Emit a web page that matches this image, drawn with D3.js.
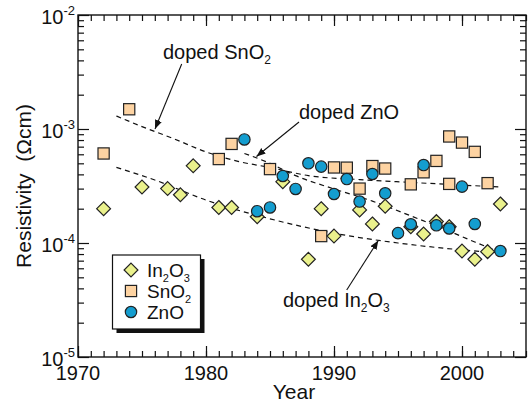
<!DOCTYPE html>
<html>
<head>
<meta charset="utf-8">
<script src="https://cdn.jsdelivr.net/npm/d3@7"></script>
<style>
  html, body { margin: 0; padding: 0; background: #fff; }
  svg text { font-family: "Liberation Sans", Arial, sans-serif; fill: #111; }
</style>
</head>
<body>
<div id="chart"></div>
<script>
// ---- data ----
const in2o3Years = [1972, 1975, 1977, 1978, 1979, 1981, 1982, 1984, 1986, 1988, 1989, 1990, 1992, 1993, 1994, 1996, 1997, 1998, 1999, 2000, 2001, 2002, 2003];
const in2o3Rho = [2.0e-4, 3.1e-4, 3.0e-4, 2.65e-4, 4.75e-4, 2.05e-4, 2.05e-4, 1.7e-4, 3.45e-4, 7.2e-5, 2.0e-4, 1.15e-4, 1.95e-4, 1.47e-4, 2.1e-4, 1.39e-4, 1.2e-4, 1.54e-4, 1.39e-4, 8.5e-5, 7.2e-5, 8.4e-5, 2.2e-4];

const sno2Years = [1972, 1974, 1981, 1982, 1985, 1989, 1990, 1991, 1992, 1993, 1994, 1996, 1997, 1998, 1999, 1999, 2000, 2001, 2002];
const sno2Rho = [6.1e-4, 1.49e-3, 5.45e-4, 7.4e-4, 4.45e-4, 1.15e-4, 4.6e-4, 4.58e-4, 3.0e-4, 4.73e-4, 4.5e-4, 3.27e-4, 4.17e-4, 5.25e-4, 8.6e-4, 3.3e-4, 7.6e-4, 6.3e-4, 3.35e-4];

const znoYears = [1983, 1984, 1985, 1986, 1987, 1988, 1989, 1990, 1991, 1992, 1993, 1994, 1995, 1996, 1997, 1998, 1999, 2000, 2001, 2003];
const znoRho = [8.1e-4, 1.9e-4, 2.05e-4, 3.87e-4, 2.98e-4, 5.0e-4, 4.68e-4, 2.69e-4, 3.64e-4, 2.31e-4, 4.03e-4, 2.73e-4, 1.22e-4, 1.46e-4, 4.83e-4, 1.43e-4, 1.34e-4, 3.12e-4, 1.47e-4, 8.5e-5];

// dashed trend curves
const sno2TrendYears = [1973, 1975, 1977.5, 1980, 1982.5, 1985, 1988, 1992, 1996, 2003];
const sno2TrendRho = [1.3e-3, 1.05e-3, 8.2e-4, 6.3e-4, 5.2e-4, 4.6e-4, 3.9e-4, 3.6e-4, 3.4e-4, 3.1e-4];
const znoTrendYears = [1983, 1985, 1987, 1990, 1993, 1996, 1999, 2001, 2003];
const znoTrendRho = [6.1e-4, 5.0e-4, 3.9e-4, 2.98e-4, 2.33e-4, 1.73e-4, 1.27e-4, 1.02e-4, 8.3e-5];
const in2o3TrendYears = [1973, 1976, 1980, 1985, 1990, 1995, 2000, 2003];
const in2o3TrendRho = [4.6e-4, 3.57e-4, 2.38e-4, 1.63e-4, 1.22e-4, 1.0e-4, 8.7e-5, 8.2e-5];

const xMajorTicks = [1970, 1980, 1990, 2000];
const yMajorExps = [-5, -4, -3, -2];

// ---- layout ----
const W = 529, H = 406;
const margin = { top: 15, right: 3, bottom: 49, left: 78 };
const width = W - margin.left - margin.right;
const height = H - margin.top - margin.bottom;

const svg = d3.select('#chart').append('svg')
  .attr('width', W).attr('height', H);
const g = svg.append('g')
  .attr('transform', `translate(${margin.left},${margin.top})`);

const x = d3.scaleLinear().domain([1970, 2005]).range([0, width]);
const y = d3.scaleLog().domain([1e-5, 1e-2]).range([height, 0]);

// ---- axes: ticks pointing inward on all four sides ----
const minorYears = d3.range(1970, 2006);
const minorY = [];
yMajorExps.slice(0, 3).forEach(e => {
  for (let k = 2; k <= 9; k++) minorY.push(k * Math.pow(10, e));
});
const majorY = yMajorExps.map(e => Math.pow(10, e));

function styleAxis(sel) {
  sel.select('.domain').remove();
  sel.selectAll('line').attr('stroke', '#111').attr('stroke-width', 1.2);
}

g.append('g').attr('transform', `translate(0,${height})`)
  .call(d3.axisBottom(x).tickValues(minorYears).tickSize(-6).tickFormat(''))
  .call(styleAxis);
g.append('g').attr('transform', `translate(0,${height})`)
  .call(d3.axisBottom(x).tickValues(xMajorTicks).tickSize(-11).tickFormat(''))
  .call(styleAxis);
g.append('g')
  .call(d3.axisTop(x).tickValues(minorYears).tickSize(-6).tickFormat(''))
  .call(styleAxis);
g.append('g')
  .call(d3.axisTop(x).tickValues(xMajorTicks).tickSize(-11).tickFormat(''))
  .call(styleAxis);

g.append('g')
  .call(d3.axisLeft(y).tickValues(minorY).tickSize(-6).tickFormat(''))
  .call(styleAxis);
g.append('g')
  .call(d3.axisLeft(y).tickValues(majorY).tickSize(-11).tickFormat(''))
  .call(styleAxis);
g.append('g').attr('transform', `translate(${width},0)`)
  .call(d3.axisRight(y).tickValues(minorY).tickSize(-6).tickFormat(''))
  .call(styleAxis);
g.append('g').attr('transform', `translate(${width},0)`)
  .call(d3.axisRight(y).tickValues(majorY).tickSize(-11).tickFormat(''))
  .call(styleAxis);

g.append('rect')
  .attr('width', width).attr('height', height)
  .attr('fill', 'none').attr('stroke', '#111').attr('stroke-width', 1.4);

// tick labels
g.selectAll('.xlab').data(xMajorTicks).enter().append('text')
  .attr('x', d => x(d)).attr('y', height + 23)
  .attr('text-anchor', 'middle').style('font-size', '20px')
  .text(d => d);

const ylab = g.selectAll('.ylab').data(yMajorExps).enter().append('text')
  .attr('x', -3).attr('y', d => y(Math.pow(10, d)) + 9)
  .attr('text-anchor', 'end').style('font-size', '20px');
ylab.append('tspan').text('10');
ylab.append('tspan').attr('dy', -9).style('font-size', '13px').text(d => d);

// axis titles
svg.append('text')
  .attr('x', margin.left + width / 2 - 8).attr('y', H - 7)
  .attr('text-anchor', 'middle').style('font-size', '21px')
  .text('Year');
svg.append('text')
  .attr('transform', `translate(31,${margin.top + height / 2}) rotate(-90)`)
  .attr('text-anchor', 'middle').style('font-size', '21px')
  .style('white-space', 'pre')
  .text('Resistivity  (\u03A9cm)');

// ---- trend curves ----
const line = d3.line().x(d => x(d[0])).y(d => y(d[1])).curve(d3.curveMonotoneX);
[[sno2TrendYears, sno2TrendRho], [znoTrendYears, znoTrendRho], [in2o3TrendYears, in2o3TrendRho]]
  .forEach(([ys, vs]) => {
    g.append('path')
      .datum(ys.map((yr, i) => [yr, vs[i]]))
      .attr('d', line)
      .attr('fill', 'none').attr('stroke', '#111')
      .attr('stroke-width', 1.2).attr('stroke-dasharray', '5,4');
  });

// ---- markers ----
const diamondFill = '#eaf18c', squareFill = '#fdd3a2', circleFill = '#149dcf';
const zip = (a, b) => a.map((v, i) => [v, b[i]]);

g.selectAll('.sq').data(zip(sno2Years, sno2Rho)).enter().append('rect')
  .attr('x', d => x(d[0]) - 5.6).attr('y', d => y(d[1]) - 5.6)
  .attr('width', 11.2).attr('height', 11.2)
  .attr('fill', squareFill).attr('stroke', '#222').attr('stroke-width', 1.2);

const diamond = d3.symbol().type(d3.symbolDiamond2).size(122);
g.selectAll('.dm').data(zip(in2o3Years, in2o3Rho)).enter().append('path')
  .attr('d', diamond)
  .attr('transform', d => `translate(${x(d[0])},${y(d[1])})`)
  .attr('fill', diamondFill).attr('stroke', '#222').attr('stroke-width', 1.2);

g.selectAll('.ci').data(zip(znoYears, znoRho)).enter().append('circle')
  .attr('cx', d => x(d[0])).attr('cy', d => y(d[1])).attr('r', 5.7)
  .attr('fill', circleFill).attr('stroke', '#222').attr('stroke-width', 1.2);

// ---- annotations ----
svg.append('defs').append('marker')
  .attr('id', 'ah').attr('viewBox', '0 0 10 10').attr('refX', 10).attr('refY', 5)
  .attr('markerWidth', 9).attr('markerHeight', 9).attr('markerUnits', 'userSpaceOnUse')
  .attr('orient', 'auto')
  .append('path').attr('d', 'M0,1 L10,5 L0,9 Z').attr('fill', '#111');

function arrow(x1, y1, x2, y2) {
  svg.append('line')
    .attr('x1', x1).attr('y1', y1).attr('x2', x2).attr('y2', y2)
    .attr('stroke', '#111').attr('stroke-width', 1.1)
    .attr('marker-end', 'url(#ah)');
}

// parts: plain strings, or ['_', '2'] for a subscript
function formula(xp, yp, parts, size) {
  const t = svg.append('text').attr('x', xp).attr('y', yp).style('font-size', size + 'px');
  let shift = 0;
  parts.forEach(p => {
    if (Array.isArray(p)) {
      t.append('tspan').attr('dy', 5 - shift).style('font-size', Math.round(size * 0.6) + 'px').text(p[1]);
      shift = 5;
    } else {
      t.append('tspan').attr('dy', -shift).text(p);
      shift = 0;
    }
  });
  return t;
}

formula(163, 59, ['doped SnO', ['_', '2']], 20);
arrow(181.7, 64, 155, 129);
formula(299, 119, ['doped ZnO'], 20);
arrow(299, 122, 256.5, 156.5);
formula(283, 307, ['doped In', ['_', '2'], 'O', ['_', '3']], 20);
arrow(346.7, 290, 378.3, 240.5);

// ---- legend ----
const lg = svg.append('g');
lg.append('rect').attr('x', 116.5).attr('y', 259).attr('width', 88).attr('height', 74).attr('fill', '#111');
lg.append('rect').attr('x', 112.5).attr('y', 255).attr('width', 88).attr('height', 74)
  .attr('fill', '#fff').attr('stroke', '#111').attr('stroke-width', 1.2);

lg.append('path').attr('d', diamond).attr('transform', 'translate(131,270)')
  .attr('fill', diamondFill).attr('stroke', '#222').attr('stroke-width', 1.2);
lg.append('rect').attr('x', 125.4).attr('y', 285.4).attr('width', 11.2).attr('height', 11.2)
  .attr('fill', squareFill).attr('stroke', '#222').attr('stroke-width', 1.2);
lg.append('circle').attr('cx', 131).attr('cy', 312).attr('r', 5.7)
  .attr('fill', circleFill).attr('stroke', '#222').attr('stroke-width', 1.2);

formula(147, 277, ['In', ['_', '2'], 'O', ['_', '3']], 19);
formula(147, 298, ['SnO', ['_', '2']], 19);
formula(147, 319, ['ZnO'], 19);
</script>
</body>
</html>
